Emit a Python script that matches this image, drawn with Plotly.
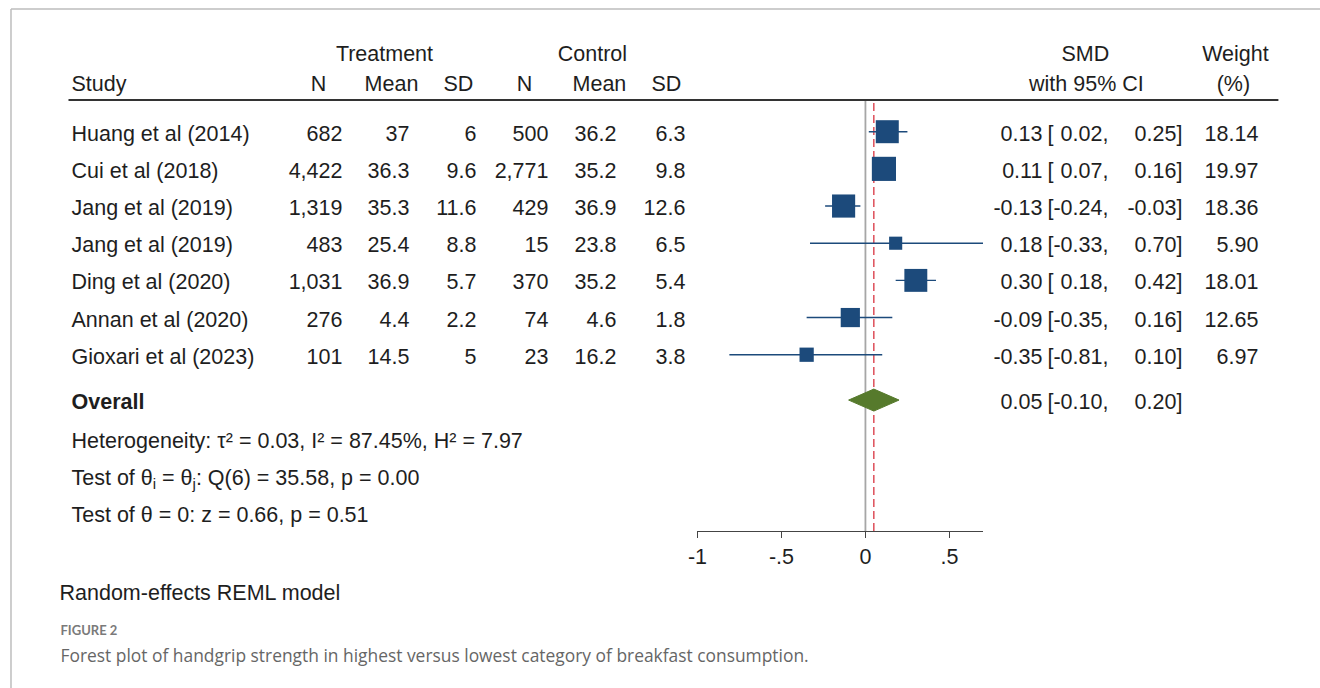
import plotly.graph_objects as go

# ---- study data ----
studies = ["Huang et al (2014)", "Cui et al (2018)", "Jang et al (2019)", "Jang et al (2019)",
           "Ding et al (2020)", "Annan et al (2020)", "Gioxari et al (2023)"]
trt_n = [682, 4422, 1319, 483, 1031, 276, 101]
trt_mean = [37, 36.3, 35.3, 25.4, 36.9, 4.4, 14.5]
trt_sd = [6, 9.6, 11.6, 8.8, 5.7, 2.2, 5]
ctl_n = [500, 2771, 429, 15, 370, 74, 23]
ctl_mean = [36.2, 35.2, 36.9, 23.8, 35.2, 4.6, 16.2]
ctl_sd = [6.3, 9.8, 12.6, 6.5, 5.4, 1.8, 3.8]
smd = [0.13, 0.11, -0.13, 0.18, 0.30, -0.09, -0.35]
ci_low = [0.02, 0.07, -0.24, -0.33, 0.18, -0.35, -0.81]
ci_high = [0.25, 0.16, -0.03, 0.70, 0.42, 0.16, 0.10]
weight = [18.14, 19.97, 18.36, 5.90, 18.01, 12.65, 6.97]

overall_smd = 0.05
overall_low = -0.10
overall_high = 0.20

x_ticks = [-1, -0.5, 0, 0.5]
x_tick_labels = ["-1", "-.5", "0", ".5"]

# ---- geometry (pixels) ----
W, H = 1320, 688
ROW0_PX, ROW_PX = 131.7, 37.17      # centre of first study row, row spacing
AXIS_PX = 531                       # x axis line
OVERALL_ROW = 7.22
X_LEFT, X_RIGHT = -1.0, 0.70
PX_PER_UNIT = 168
AXIS_X0 = 697
rows = list(range(len(studies)))

# horizontal pixel calibration for the viewer
SX_OFF, SX_SCALE = 9.5, 0.9925

def sx(p):
    return (p - SX_OFF) / SX_SCALE

FONT = "Liberation Sans"
FS = 21.5
TXT = "#1e1e1e"
BLUE = "#1c4a7b"
GREEN = "#567a2c"
TEXT_DY = 2.3    # centres cap height on the requested pixel row

def py(y):
    return 1 - y / H

def row_px(r):
    return ROW0_PX + ROW_PX * r + 1.3

y_top = -ROW0_PX / ROW_PX
y_bot = (AXIS_PX - ROW0_PX) / ROW_PX

fig = go.Figure()

# confidence interval whiskers
for r, lo, hi in zip(rows, ci_low, ci_high):
    fig.add_trace(go.Scatter(x=[lo, hi], y=[r, r], mode="lines",
                             line=dict(color=BLUE, width=1.4),
                             hoverinfo="skip", showlegend=False, cliponaxis=False))

# weight-scaled squares (area proportional to weight)
fig.add_trace(go.Scatter(x=smd, y=rows, mode="markers",
                         marker=dict(symbol="square", color=BLUE, opacity=1,
                                     size=[5.4 * w ** 0.5 for w in weight],
                                     line=dict(width=0)),
                         showlegend=False, cliponaxis=False))

# pooled estimate diamond
half_h = 11 / ROW_PX
fig.add_trace(go.Scatter(
    x=[overall_low, overall_smd, overall_high, overall_smd, overall_low],
    y=[OVERALL_ROW, OVERALL_ROW - half_h, OVERALL_ROW, OVERALL_ROW + half_h, OVERALL_ROW],
    mode="lines", fill="toself", fillcolor=GREEN, line=dict(color=GREEN, width=1),
    showlegend=False, hoverinfo="skip"))

# ---- table text, laid out on a full-page pixel overlay ----
def add_text(items, family=FONT, size=FS, color=TXT):
    """items: list of (x_px, y_px, text, align) with align in {'left','right','center'}"""
    groups = {}
    for x, y, s, a in items:
        groups.setdefault(a, []).append((x, y, s))
    pos = {"left": "middle right", "right": "middle left", "center": "middle center"}
    for a, pts in groups.items():
        fig.add_trace(go.Scatter(
            x=[sx(p[0]) for p in pts], y=[p[1] + TEXT_DY * size / FS for p in pts],
            text=[p[2] for p in pts], mode="text", textposition=pos[a],
            textfont=dict(family=family, size=size, color=color),
            xaxis="x2", yaxis="y2", hoverinfo="skip", showlegend=False, cliponaxis=False))

items = []
# column headers
items += [(384, 53, "Treatment", "center"), (592, 53, "Control", "center"),
          (71, 83, "Study", "left")]
for xc, lab in [(318, "N"), (391, "Mean"), (458, "SD"), (524, "N"), (599, "Mean"), (666, "SD")]:
    items.append((xc, 83, lab, "center"))
items += [(1085, 53, "SMD", "center"), (1086, 83, "with 95% CI", "center"),
          (1235, 53, "Weight", "center"), (1233, 83, "(%)", "center")]

# study rows
for r in rows:
    y = row_px(r)
    items += [
        (71, y, studies[r], "left"),
        (342, y, f"{trt_n[r]:,}", "right"),
        (409, y, f"{trt_mean[r]:g}", "right"),
        (476, y, f"{trt_sd[r]:g}", "right"),
        (548, y, f"{ctl_n[r]:,}", "right"),
        (616, y, f"{ctl_mean[r]:g}", "right"),
        (685, y, f"{ctl_sd[r]:g}", "right"),
        (1042, y, f"{smd[r]:.2f}", "right"),
        (1047, y, "[", "left"),
        (1108, y, f"{ci_low[r]:.2f},", "right"),
        (1182, y, f"{ci_high[r]:.2f}]", "right"),
        (1258, y, f"{weight[r]:.2f}", "right"),
    ]

# pooled row
yo = ROW0_PX + ROW_PX * OVERALL_ROW + 1.5
items += [
    (71, yo, "<b>Overall</b>", "left"),
    (1042, yo, f"{overall_smd:.2f}", "right"),
    (1047, yo, "[", "left"),
    (1108, yo, f"{overall_low:.2f},", "right"),
    (1182, yo, f"{overall_high:.2f}]", "right"),
]

# heterogeneity statistics
items += [
    (71, 440, "Heterogeneity: τ² = 0.03, I² = 87.45%, H² = 7.97", "left"),
    (71, 477, "Test of θ<sub>i</sub> = θ<sub>j</sub>: Q(6) = 35.58, p = 0.00", "left"),
    (71, 514, "Test of θ = 0: z = 0.66, p = 0.51", "left"),
    (59, 592, "Random-effects REML model", "left"),
]
add_text(items)

# figure label and caption
add_text([(60, 630, "<b>FIGURE 2</b>", "left")], family="Lato", size=13, color="#7a7a7a")
add_text([(60, 656, "Forest plot of handgrip strength in highest versus lowest category of breakfast consumption.",
           "left")], family="Open Sans", size=17.4, color="#666666")

# ---- reference lines, rules and frame ----
shapes = [
    dict(type="line", xref="x", yref="paper", x0=0, x1=0, y0=py(AXIS_PX), y1=py(101),
         line=dict(color="#a6a6a6", width=1.8), layer="below"),
    dict(type="line", xref="x", yref="paper", x0=overall_smd, x1=overall_smd,
         y0=py(AXIS_PX), y1=py(101),
         line=dict(color="#d8323e", width=1.3, dash="8px,4px"), layer="below"),
    dict(type="line", xref="paper", yref="paper", x0=sx(68) / W, x1=sx(1278) / W,
         y0=py(100), y1=py(100), line=dict(color="#333333", width=1.8)),
    dict(type="line", xref="paper", yref="paper", x0=1 / W, x1=1,
         y0=py(9), y1=py(9), line=dict(color="#bdbdbd", width=1.5)),
    dict(type="line", xref="paper", yref="paper", x0=1 / W, x1=1 / W,
         y0=py(9), y1=0, line=dict(color="#bdbdbd", width=1.5)),
]

x_right_px = AXIS_X0 + (X_RIGHT - X_LEFT) * PX_PER_UNIT

fig.update_layout(
    width=W, height=H,
    margin=dict(l=0, r=0, t=0, b=0),
    paper_bgcolor="white", plot_bgcolor="rgba(0,0,0,0)",
    shapes=shapes,
    xaxis=dict(domain=[sx(AXIS_X0) / W, sx(x_right_px) / W], range=[X_LEFT, X_RIGHT],
               tickvals=x_ticks, ticktext=x_tick_labels,
               showgrid=False, zeroline=False, showline=True,
               linecolor="#444444", linewidth=1.2,
               ticks="outside", ticklen=6, tickwidth=1.2, tickcolor="#444444",
               tickfont=dict(family=FONT, size=FS, color=TXT), fixedrange=True),
    yaxis=dict(domain=[py(AXIS_PX), 1], range=[y_bot, y_top], visible=False,
               showgrid=False, zeroline=False, fixedrange=True),
    xaxis2=dict(domain=[0, 1], range=[0, W], anchor="y2", visible=False, fixedrange=True),
    yaxis2=dict(domain=[0, 1], range=[H, 0], anchor="x2", visible=False, fixedrange=True),
    showlegend=False,
)

fig.write_html("out.html", config={"staticPlot": True})
